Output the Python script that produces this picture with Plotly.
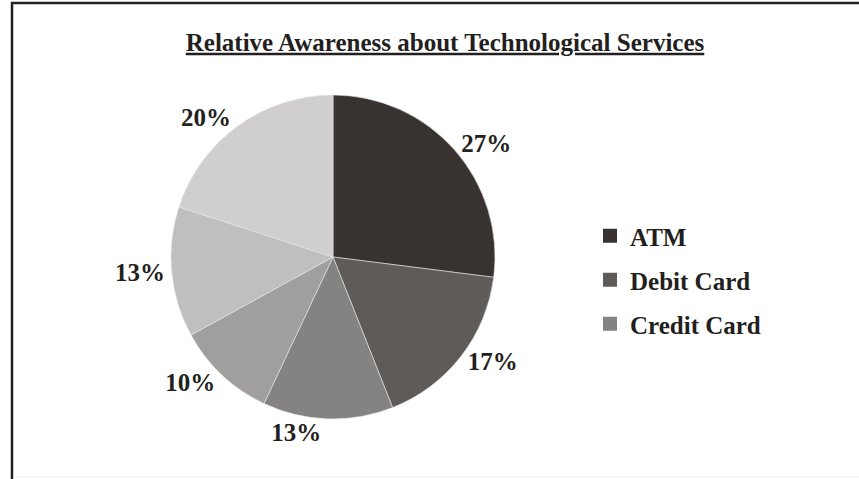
import plotly.graph_objects as go

labels = ["ATM", "Debit Card", "Credit Card", "Other A", "Other B", "Other C"]
values = [27, 17, 13, 10, 13, 20]
colors = ["#383330", "#5f5b59", "#858381", "#a09f9e", "#c0bfbe", "#d0cfce"]
legend_labels = ["ATM", "Debit Card", "Credit Card"]
title_text = "Relative Awareness about Technological Services"

W, H = 859, 479
FONT = "Liberation Serif"
INK = "#231f20"

fig = go.Figure()
fig.add_trace(go.Pie(
    labels=labels, values=values, sort=False, direction="clockwise", rotation=0,
    marker=dict(colors=colors, line=dict(color="#e6e6e6", width=0.6)),
    textinfo="percent", textposition="outside",
    textfont=dict(family=FONT, size=25, color=INK, weight="bold"),
    showlegend=False, hoverinfo="label+percent",
    domain=dict(x=[(333 - 162) / W, (333 + 162) / W], y=[(H - 419) / H, (H - 95) / H]),
))
for i, name in enumerate(legend_labels):
    fig.add_trace(go.Scatter(
        x=[None], y=[None], mode="markers", name=name, legendgroup=name,
        marker=dict(symbol="square", size=14, color=colors[i]),
    ))

fig.update_layout(
    width=W, height=H, margin=dict(l=0, r=0, t=0, b=0),
    paper_bgcolor="white", plot_bgcolor="white",
    xaxis=dict(visible=False), yaxis=dict(visible=False),
    title=dict(text="<b><u>" + title_text + "</u></b>", x=445 / W, xanchor="center",
               y=1 - 42 / H, yanchor="middle",
               font=dict(family=FONT, size=25, color=INK)),
    legend=dict(x=590 / W, y=1 - 213 / H, xanchor="left", yanchor="top",
                font=dict(family=FONT, size=25, color=INK, weight="bold"),
                tracegroupgap=8.5, bgcolor="rgba(0,0,0,0)"),
    shapes=[
        dict(type="line", xref="paper", yref="paper", x0=12 / W, x1=12 / W, y0=0, y1=1 - 2 / H,
             line=dict(color=INK, width=2.5)),
        dict(type="line", xref="paper", yref="paper", x0=11 / W, x1=1, y0=1 - 3 / H, y1=1 - 3 / H,
             line=dict(color=INK, width=2.5)),
        dict(type="line", xref="paper", yref="paper", x0=13 / W, x1=1, y0=2 / H, y1=2 / H,
             line=dict(color="#eeeeee", width=1)),
    ],
)
fig.write_html("out.html")
